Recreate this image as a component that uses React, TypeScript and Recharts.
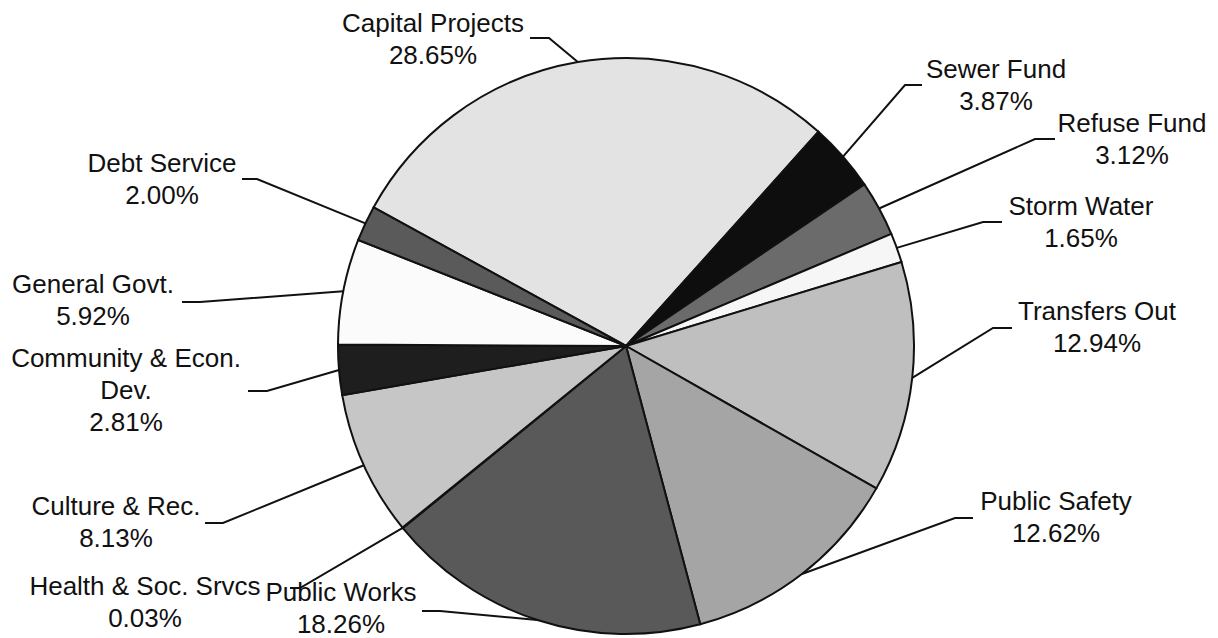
import React from "react";
import { PieChart, Pie, Cell } from "recharts";

const categories = [
  "Capital Projects",
  "Sewer Fund",
  "Refuse Fund",
  "Storm Water",
  "Transfers Out",
  "Public Safety",
  "Public Works",
  "Health & Soc. Srvcs",
  "Culture & Rec.",
  "Community & Econ. Dev.",
  "General Govt.",
  "Debt Service",
];

const shares = [28.65, 3.87, 3.12, 1.65, 12.94, 12.62, 18.26, 0.03, 8.13, 2.81, 5.92, 2.0];

const labelLines: string[][] = [
  ["Capital Projects"],
  ["Sewer Fund"],
  ["Refuse Fund"],
  ["Storm Water"],
  ["Transfers Out"],
  ["Public Safety"],
  ["Public Works"],
  ["Health & Soc. Srvcs"],
  ["Culture & Rec."],
  ["Community & Econ.", "Dev."],
  ["General Govt."],
  ["Debt Service"],
];

const fills = [
  "#e3e3e3",
  "#0e0e0e",
  "#6b6b6b",
  "#f6f6f6",
  "#bfbfbf",
  "#a5a5a5",
  "#595959",
  "#888888",
  "#c6c6c6",
  "#1e1e1e",
  "#fbfbfb",
  "#5a5a5a",
];

// label layout: text centre x, first baseline y, elbow x, elbow y, end x
const labelLayout: number[][] = [
  [433, 32, 549, 38, 530],
  [996, 78, 905, 85, 922],
  [1132, 132, 1035, 139, 1055],
  [1081, 215, 983, 222, 1002],
  [1097, 320, 993, 328, 1012],
  [1056, 510, 955, 518, 973],
  [341, 601, 440, 611, 422],
  [145, 595, 300, 588, 290],
  [116, 515, 223, 523, 205],
  [126, 367, 267, 391, 248],
  [93, 293, 200, 302, 182],
  [162, 172, 257, 179, 242],
];

const data = categories.map((name, i) => ({ name, value: shares[i] }));

const RAD = Math.PI / 180;
const LINE_H = 32;

const renderLabel = (props: any) => {
  const { cx, cy, midAngle, outerRadius, index } = props;
  const sx = cx + outerRadius * Math.cos(-midAngle * RAD);
  const sy = cy + outerRadius * Math.sin(-midAngle * RAD);
  const [tx, ty, ex, ey, hx] = labelLayout[index];
  const lines = [...labelLines[index], shares[index].toFixed(2) + "%"];
  return (
    <g>
      <polyline
        points={`${sx},${sy} ${ex},${ey} ${hx},${ey}`}
        fill="none"
        stroke="#111"
        strokeWidth={2}
      />
      {lines.map((t, k) => (
        <text
          key={k}
          x={tx}
          y={ty + k * LINE_H}
          textAnchor="middle"
          fontSize={26}
          fontFamily="'Liberation Sans', Arial, sans-serif"
          fill="#111"
        >
          {t}
        </text>
      ))}
    </g>
  );
};

export default function App() {
  return (
    <div style={{ position: "absolute", left: 0, top: 0, width: 1218, height: 638, background: "#fff" }}>
      <PieChart width={1218} height={638} margin={{ top: 0, right: 0, bottom: 0, left: 0 }}>
        <Pie
          data={data}
          dataKey="value"
          nameKey="name"
          cx={626}
          cy={346}
          outerRadius={288}
          startAngle={151.2}
          endAngle={-208.8}
          stroke="#111"
          strokeWidth={2}
          isAnimationActive={false}
          labelLine={false}
          label={renderLabel}
        >
          {data.map((d, i) => (
            <Cell key={d.name} fill={fills[i]} />
          ))}
        </Pie>
      </PieChart>
    </div>
  );
}
